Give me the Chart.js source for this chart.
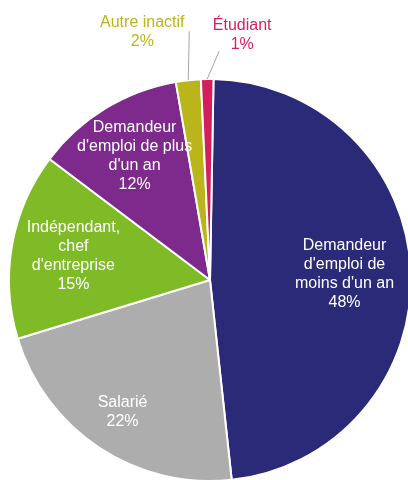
<!DOCTYPE html>
<html lang="fr">
<head>
<meta charset="utf-8">
<title>Répartition</title>
<script src="https://cdn.jsdelivr.net/npm/chart.js@4"></script>
<style>
  html, body { margin: 0; padding: 0; background: #fff; overflow: hidden; }
  .wrap { position: relative; width: 420px; height: 484px; }
</style>
</head>
<body>
<div class="wrap"><canvas id="pieChart"></canvas></div>
<script>
/* données */
const categories = [
  "Demandeur\nd'emploi de\nmoins d'un an",
  'Salarié',
  'Indépendant,\nchef\nd\'entreprise',
  "Demandeur\nd'emploi de plus\nd'un an",
  'Autre inactif',
  'Étudiant'
];
const values = [48, 22, 15, 12, 2, 1];
const colors = ['#2b2a78', '#adadad', '#7fba27', '#7d2a8c', '#b9b51a', '#d41f5c'];

// placement des étiquettes : dans la part (fraction du rayon) ou dehors avec trait
const labelPlace = [
  { inside: true, r: 0.67 },
  { inside: true, r: 0.79 },
  { inside: true, r: 0.69 },
  { inside: true, r: 0.72 },
  { inside: false, line: [1, -49], text: [-47, 1] },
  { inside: false, line: [12, -28], text: [23, -16] }
];

const sliceLabels = {
  id: 'sliceLabels',
  afterDatasetsDraw(chart) {
    const ctx = chart.ctx;
    const meta = chart.getDatasetMeta(0);
    ctx.save();
    ctx.font = '16px "Liberation Sans", Arial, sans-serif';
    ctx.textAlign = 'center';
    ctx.textBaseline = 'middle';
    meta.data.forEach((arc, i) => {
      const p = arc.getProps(['x', 'y', 'startAngle', 'endAngle', 'outerRadius'], true);
      const mid = (p.startAngle + p.endAngle) / 2;
      const lines = categories[i].split('\n').concat(values[i] + '%');
      const lab = labelPlace[i];
      let cx, cy;
      if (lab.inside) {
        cx = p.x + Math.cos(mid) * p.outerRadius * lab.r;
        cy = p.y + Math.sin(mid) * p.outerRadius * lab.r;
        ctx.fillStyle = '#ffffff';
      } else {
        const sx = p.x + Math.cos(mid) * p.outerRadius;
        const sy = p.y + Math.sin(mid) * p.outerRadius;
        const ex = sx + lab.line[0], ey = sy + lab.line[1];
        ctx.strokeStyle = '#a6a6a6';
        ctx.lineWidth = 1;
        ctx.beginPath(); ctx.moveTo(sx, sy); ctx.lineTo(ex, ey); ctx.stroke();
        cx = ex + lab.text[0];
        cy = ey + lab.text[1];
        ctx.fillStyle = colors[i];
      }
      const lh = 19;
      lines.forEach((t, k) => ctx.fillText(t, cx, cy + (k - (lines.length - 1) / 2) * lh));
    });
    ctx.restore();
  }
};

new Chart(document.getElementById('pieChart'), {
  type: 'pie',
  data: {
    labels: categories.map(c => c.replace(/\n/g, ' ')),
    datasets: [{ data: values, backgroundColor: colors, borderColor: '#ffffff', borderWidth: 2 }]
  },
  options: {
    responsive: true, maintainAspectRatio: false, animation: false,
    rotation: 1,
    layout: { padding: { left: 8, right: 8, top: 78, bottom: 2 } },
    plugins: { legend: { display: false }, tooltip: { enabled: false } }
  },
  plugins: [sliceLabels]
});
</script>
</body>
</html>
